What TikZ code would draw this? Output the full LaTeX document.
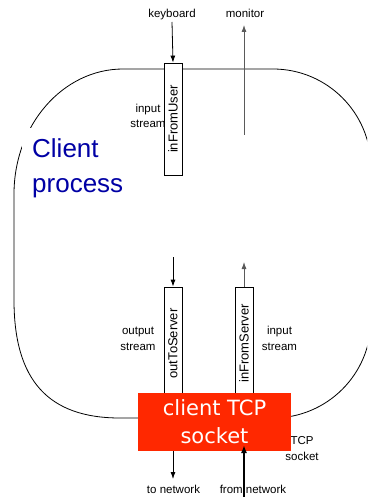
\documentclass[tikz,border=0pt]{standalone}
\usepackage{fontspec}
\setmainfont{Liberation Sans}
\newfontfamily\comicfont{DejaVu Sans}
\usetikzlibrary{arrows.meta}
\definecolor{sockred}{RGB}{255,40,0}
\definecolor{procblue}{RGB}{0,0,165}
\definecolor{arrgray}{RGB}{90,90,90}
\begin{document}
\begin{tikzpicture}[x=1pt,y=-1pt,
  lbl/.style={font=\fontsize{11.5}{15.5}\selectfont, inner sep=0pt, align=center, anchor=base},
  streambox/.style={draw, fill=white, minimum width=18pt, inner sep=0pt, line width=0.8pt,
                    font=\fontsize{13}{13}\selectfont},
  arr/.style={-{Latex[length=7pt,width=5pt]}, line width=0.8pt},
  outline/.style={line width=0.8pt}]
\useasboundingbox (0,0) rectangle (367,497);
\begin{scope}
\clip (0,0) rectangle (367,497);
% process outline
\draw[outline] (123,69) -- (273,69) arc[start angle=-90, end angle=0, radius=98]
  -- (371,320) arc[start angle=0, end angle=90, radius=98]
  -- (120,418) .. controls (48,418) and (14,380) .. (14,300)
  -- (14,194) .. controls (14,125) and (63,69) .. (123,69) -- cycle;
\end{scope}
% process label
\node[fill=white, anchor=north west, inner sep=10pt, align=left, text=procblue,
      font=\fontsize{26}{35}\selectfont] (proc) at (22,128) {Client\\process};
% labels (base anchor = baseline of last line)
\node[lbl] (kbd) at (172,18) {keyboard};
\node[lbl] (mon) at (245,18) {monitor};
\node[lbl] (ins1) at (148,128) {input\\stream};
\node[lbl] (outs) at (138,350) {output\\stream};
\node[lbl] (ins2) at (279.5,350) {input\\stream};
\node[lbl] (tcpl) at (302,460) {TCP\\socket};
\node[lbl] (tonet) at (173.5,493) {to network};
\node[lbl] (fromnet) at (253,493) {from network};
% stream boxes
\node[streambox, minimum height=112pt] (ifu) at (173,119) {\rotatebox{90}{inFromUser}};
\node[streambox, minimum height=113pt] (ots) at (173,343.5) {\rotatebox{90}{outToServer}};
\node[streambox, minimum height=113pt] (ifs) at (244,343.5) {\rotatebox{90}{inFromServer}};
% socket
\node[fill=sockred, text=white, minimum width=153pt, minimum height=58pt, inner sep=0pt,
      align=center, font=\comicfont\fontsize{21}{28}\selectfont] (sock) at (214.5,422) {\raisebox{-2pt}{client TCP}\\\raisebox{-2pt}{socket}};
% connectors
\coordinate (monstart) at (244,135);
\coordinate (otsstart) at (173,257);
\coordinate (ifsend) at (244,262);
\coordinate (tonetend) at (173,479);
\coordinate (fromnetstart) at (244,497);
\coordinate (fromnetend) at (244,445);
\draw[arr] (kbd.south |- 0,22) -- (ifu.north);
\draw[arr, arrgray] (monstart) -- (monstart |- 0,25);
\draw[arr] (otsstart) -- (ots.north);
\draw[arr, arrgray] (ifs.north) -- (ifsend);
\draw[arr] (sock.south -| tonetend) -- (tonetend);
\draw[-{Latex[length=8pt,width=6pt]}, line width=1.8pt] (fromnetstart) -- (fromnetend);
\end{tikzpicture}
\end{document}
